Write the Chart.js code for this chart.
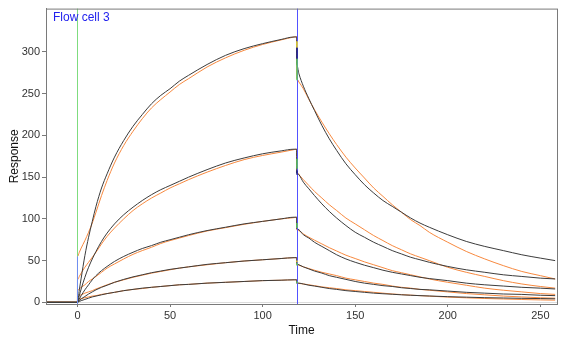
<!DOCTYPE html>
<html>
<head>
<meta charset="utf-8">
<script src="https://cdn.jsdelivr.net/npm/chart.js@4/dist/chart.umd.min.js"></script>
<style>
  body { margin: 0; background: #fff; }
</style>
</head>
<body>
<canvas id="sprChart" width="566" height="340"></canvas>
<script>
// time axis (s); 0 and 118.4 are listed twice for the jumps at injection start / end
const timeSec = [-17, -10, -3, 0, 0, 1, 2, 4, 6, 8, 10, 13, 16, 20, 25, 30, 35, 40, 45, 50, 55, 60,
  70, 80, 90, 100, 110, 117, 118.4, 118.4, 119.6, 122, 125, 128, 132, 136, 140,
  145, 150, 155, 160, 165, 170, 175, 180, 185, 190, 200, 210, 220, 230, 240, 250, 258]

// measured sensorgrams (black)
const obs1 = [0, 0, 0, 0, 0, 15, 29, 56, 78, 97, 115, 137, 154, 174, 194, 211, 225, 238, 248, 256, 265, 272,
  285, 296, 304, 310, 315, 318, 318, 285, 274, 259, 244, 230, 212, 196, 182,
  166, 153, 141, 131, 122, 115, 108, 101, 95, 90, 81, 73, 67, 62, 57, 53, 50]
const obs2 = [0, 0, 0, 0, 0, 8, 16, 30, 42, 52, 61, 73, 83, 94, 105, 114, 122, 129, 135, 140, 145, 150,
  159, 167, 173, 178, 181.5, 183.5, 183.5, 155, 153, 144, 136, 128, 118, 109, 101,
  92, 84, 78, 72, 67, 62, 58, 54, 51, 48, 43, 39, 36, 33, 31, 29, 28]
const obs3 = [0, 0, 0, 0, 0, 4, 8, 15, 21, 27, 32, 38, 43, 49, 55, 60, 64.5, 68, 72, 75, 78, 81,
  86, 90, 94, 97, 100, 102, 102, 88, 87, 81, 77, 72, 67, 62, 57,
  52, 48, 44.5, 41.5, 38.5, 36, 34, 32, 30, 28.5, 26, 23, 21, 19.5, 18, 17, 16]
const obs4 = [0, 0, 0, 0, 0, 2, 4, 7, 10, 12.5, 15, 18, 20.5, 24, 27.5, 30.5, 33, 35.5, 37.5, 39.5, 41, 42.5,
  45.5, 47.5, 49.5, 51, 52.5, 53.5, 53.5, 46, 45, 42.5, 40, 37.5, 35, 32, 30,
  27.5, 25, 23, 21.5, 20, 19, 17.5, 16.5, 15.5, 15, 13.5, 12, 11, 10, 9.5, 8.5, 8]
const obs5 = [0, 0, 0, 0, 0, 1, 2, 3.5, 5, 6.5, 7.5, 9, 10.5, 12, 14, 15.5, 17, 18, 19, 20, 21, 21.5,
  23, 24, 25, 26, 26.5, 27, 27, 23, 23, 22, 20.5, 19.5, 18, 16.5, 15.5,
  14, 13, 12, 11, 10.3, 9.7, 9, 8.5, 8, 7.6, 6.8, 6.2, 5.6, 5.2, 4.8, 4.5, 4.2]

// fitted curves (orange)
const fit1 = [0, 0, 0, 0, 55, 60, 65, 74, 84, 95, 108, 128, 146, 167, 188, 205, 220, 233, 243, 252, 261, 268,
  282, 293, 302, 309, 314.5, 318, 318.5, 268, 264, 256, 243, 231, 216, 202, 189,
  174, 161, 149, 137, 127, 117, 108, 99, 92, 84, 72, 61, 52, 44, 37, 32, 28]
const fit2 = [0, 0, 0, 0, 27, 31, 35, 42, 48, 54, 60, 70, 79, 89, 100, 110, 118, 125, 131, 137, 142, 147,
  156, 164, 171, 176, 180, 183, 183.5, 156, 153, 147, 140, 133, 125, 117, 110,
  101, 94, 87, 80, 74, 68, 63, 58, 54, 50, 42, 36, 31, 26, 22, 19, 17]
const fit3 = [0, 0, 0, 0, 14, 16, 18, 21, 25, 28, 31, 36, 41, 46, 52, 57.5, 62, 66, 70.5, 74, 77, 80,
  85.5, 89.5, 93.5, 97, 100, 101.5, 102, 87, 86, 82, 78, 74.5, 70, 65.5, 61.5,
  56.5, 52.5, 48.5, 45, 41.5, 38, 35.5, 33, 30.5, 28, 24, 20.5, 17, 14.5, 12.5, 10.5, 9.5]
const fit4 = [0, 0, 0, 0, 7, 8, 9, 11, 12.5, 14, 16, 18.5, 21, 24, 27, 30, 32.5, 35, 37, 39, 41, 42.5,
  45, 47.5, 49.5, 51, 52.5, 53.5, 53.5, 45, 44.5, 42.5, 40.5, 38.5, 36, 34, 32,
  29, 27, 25, 23, 21.5, 19.5, 18, 17, 15.5, 14.5, 12.5, 10.5, 9, 7.5, 6.5, 5.5, 5]
const fit5 = [0, 0, 0, 0, 3.5, 4, 4.5, 5.5, 6.5, 7.5, 8, 9.5, 10.5, 12, 14, 15.5, 16.5, 18, 19, 20, 21, 21.5,
  23, 24, 25, 26, 26.5, 27, 27, 23, 22.7, 22, 21, 20, 18.5, 17.5, 16.5,
  15, 14, 13, 12, 11, 10, 9.3, 8.6, 8, 7.4, 6.3, 5.4, 4.6, 4, 3.4, 2.9, 2.6]

// short coloured flags on the drops at injection end: [from, to]
const yellowFlags = [[313, 305], [50, 48]]
const navyFlags = [[305, 292], [158, 153]]
const greenFlags = [[292, 266], [172, 160], [95, 89], [47, 44], [25, 23]]

const xTicks = [0, 50, 100, 150, 200, 250]
const yTicks = [0, 50, 100, 150, 200, 250, 300]
const injectStart = 0
const injectEnd = 118.4
const flowCellLabel = "Flow cell 3"

const obsColor = '#3c3c3c'
const fitColor = '#f7893f'

function toPoints(values) {
    return timeSec.map((t, i) => ({x: t, y: values[i]}))
}

function makeSet(values, color) {
    return {
        data: toPoints(values),
        borderColor: color,
        borderWidth: 1,
        pointRadius: 0,
        fill: false,
        cubicInterpolationMode: 'monotone'
    }
}

function vline(ctx, x, y0, y1, color) {
    ctx.strokeStyle = color
    ctx.beginPath()
    ctx.moveTo(x, y0)
    ctx.lineTo(x, y1)
    ctx.stroke()
}

// vertical injection markers, zero line, frame and the flow cell caption
const overlayPlugin = {
    id: 'overlay',
    beforeDatasetsDraw(chart) {
        const {ctx, chartArea, scales} = chart
        const y = scales.y
        ctx.save()
        ctx.lineWidth = 1
        ctx.strokeStyle = '#dcdcdc'
        const y0 = Math.round(y.getPixelForValue(0)) + 0.5
        ctx.beginPath()
        ctx.moveTo(chartArea.left, y0)
        ctx.lineTo(chartArea.right, y0)
        ctx.stroke()
        ctx.restore()
    },
    afterDatasetsDraw(chart) {
        const {ctx, chartArea, scales} = chart
        const x = scales.x
        const y = scales.y
        ctx.save()
        ctx.lineWidth = 1
        const xs = Math.round(x.getPixelForValue(injectStart)) + 0.5
        vline(ctx, xs, chartArea.top, y.getPixelForValue(fit1[4]), '#7fdc7f')
        vline(ctx, xs, y.getPixelForValue(fit1[4]), chartArea.bottom, '#6f8ff0')

        const xe = Math.round(x.getPixelForValue(injectEnd)) + 0.5
        vline(ctx, xe, chartArea.top, chartArea.bottom, '#5252ff')

        ctx.lineWidth = 1.5
        yellowFlags.forEach(f => vline(ctx, xe - 0.5, y.getPixelForValue(f[0]), y.getPixelForValue(f[1]), '#f2e030'))
        navyFlags.forEach(f => vline(ctx, xe - 0.5, y.getPixelForValue(f[0]), y.getPixelForValue(f[1]), '#202080'))
        greenFlags.forEach(f => vline(ctx, xe - 0.5, y.getPixelForValue(f[0]), y.getPixelForValue(f[1]), '#5cc85c'))
        ctx.restore()
    },
    afterDraw(chart) {
        const {ctx, chartArea} = chart
        ctx.save()
        ctx.strokeStyle = '#7a7a7a'
        ctx.lineWidth = 1
        ctx.strokeRect(chartArea.left + 0.5, chartArea.top + 0.5,
            chartArea.right - chartArea.left, chartArea.bottom - chartArea.top)
        ctx.fillStyle = '#2222ee'
        ctx.font = '12px "Liberation Sans", Arial, sans-serif'
        ctx.textBaseline = 'middle'
        ctx.fillText(flowCellLabel, chartArea.left + 7, chartArea.top + 9)
        ctx.restore()
    }
}

const datasets = []
;[obs1, obs2, obs3, obs4, obs5].forEach(v => datasets.push(makeSet(v, obsColor)))
;[fit1, fit2, fit3, fit4, fit5].forEach(v => datasets.push(makeSet(v, fitColor)))

const tickFont = {family: '"Liberation Sans", Arial, sans-serif', size: 11}
const titleFont = {family: '"Liberation Sans", Arial, sans-serif', size: 12}

new Chart(document.getElementById('sprChart'), {
    type: 'line',
    data: {datasets: datasets},
    options: {
        responsive: false,
        animation: false,
        layout: {padding: {left: 0, right: 9, top: 8, bottom: 0}},
        plugins: {
            legend: {display: false},
            tooltip: {enabled: false}
        },
        scales: {
            x: {
                type: 'linear',
                min: -17,
                max: 259,
                afterBuildTicks: scale => { scale.ticks = xTicks.map(v => ({value: v})) },
                afterFit: scale => { scale.height = 36 },
                grid: {display: true, drawOnChartArea: false, tickLength: 3, color: '#7a7a7a'},
                border: {display: true, color: '#7a7a7a'},
                ticks: {font: tickFont, color: '#333', padding: 2, maxRotation: 0},
                title: {display: true, text: 'Time', font: titleFont, color: '#111', padding: {top: 0, bottom: 2}}
            },
            y: {
                min: -2,
                max: 352,
                afterBuildTicks: scale => { scale.ticks = yTicks.map(v => ({value: v})) },
                afterFit: scale => { scale.width = 46 },
                grid: {display: true, drawOnChartArea: false, tickLength: 4, color: '#7a7a7a'},
                border: {display: true, color: '#7a7a7a'},
                ticks: {font: tickFont, color: '#333', padding: 2},
                title: {display: true, text: 'Response', font: titleFont, color: '#111', padding: {top: 7, bottom: 0}}
            }
        }
    },
    plugins: [overlayPlugin]
})
</script>
</body>
</html>
